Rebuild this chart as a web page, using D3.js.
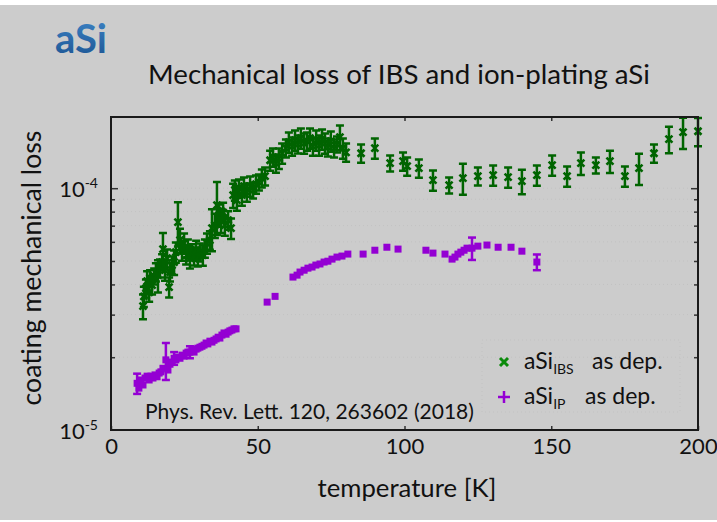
<!DOCTYPE html>
<html lang="en">
  <head>
    <meta charset="UTF-8" />
    <title>Mechanical loss of IBS and ion-plating aSi</title>
    <script src="https://cdn.jsdelivr.net/npm/d3@7"></script>
    <style>
      body { margin: 0; background: #fff; }
      svg text { font-family: Lato, "Open Sans", sans-serif; fill: #111; }
    </style>
  </head>
  <body>
    <div id="chart"></div>
    <script>
      // temperatures in K, loss in units of 1e-5
      var tempIBS = [10.9, 11.2, 11.9, 12.3, 13.0, 13.3, 14.0, 14.7, 15.3, 16.0, 16.7, 17.4, 17.7, 18.4, 19.1, 19.8,
        20.1, 20.8, 21.5, 22.1, 22.8, 23.5, 24.2, 24.9, 25.6, 26.2, 26.9, 27.6, 28.3, 29.0, 29.6, 30.3, 31.3, 32.0,
        32.7, 33.7, 34.4, 35.4, 36.1, 36.8, 37.5, 38.2, 38.8, 39.9, 40.9, 41.6, 42.2, 42.9, 43.6, 44.6, 45.3, 46.3,
        47.4, 48.4, 49.4, 50.4, 51.4, 52.5, 54.2, 55.2, 56.2, 57.2, 58.3, 59.6, 60.6, 61.7, 62.7, 63.7, 64.7, 65.8,
        66.8, 67.8, 68.8, 69.9, 70.9, 71.9, 72.9, 73.9, 74.9, 76.0, 77.0, 78.0, 79.0, 80.1, 85.2, 89.9, 95.1, 99.5,
        100.9, 104.9, 109.7, 115.2, 119.9, 125.0, 130.2, 135.3, 140.0, 145.1, 150.3, 155.4, 160.1, 165.2, 170.0,
        175.1, 179.9, 185.0, 190.1, 194.9, 200.0];
      var lossIBS = [3.25, 3.57, 3.86, 4.13, 3.71, 4.25, 3.97, 4.33, 4.50, 4.37, 4.67, 4.95, 5.60, 4.58, 5.14, 3.90,
        4.50, 4.81, 4.95, 5.44, 7.24, 6.10, 5.54, 5.93, 5.29, 5.65, 5.14, 5.44, 5.24, 5.54, 5.19, 5.44, 5.29, 5.65,
        5.93, 6.10, 6.83, 7.03, 8.51, 7.74, 7.38, 7.95, 7.03, 7.38, 6.83, 9.36, 9.81, 8.92, 10.00, 9.36, 10.19, 9.63,
        10.19, 9.81, 10.39, 10.59, 11.01, 11.22, 13.05, 13.43, 12.69, 13.30, 13.95, 14.64, 15.50, 14.92, 15.79, 15.21,
        16.10, 15.35, 15.64, 16.10, 14.92, 15.79, 15.06, 15.95, 15.35, 14.78, 15.64, 14.64, 15.21, 16.25, 14.64,
        14.08, 13.95, 14.64, 12.69, 12.93, 12.33, 12.10, 10.79, 10.29, 11.01, 11.22, 11.32, 11.11, 10.69, 11.32,
        12.45, 11.22, 12.69, 12.45, 12.93, 11.22, 12.10, 13.95, 15.95, 17.04, 17.20];
      var errIBS = [0.38, 0.34, 0.33, 0.40, 0.32, 0.33, 0.34, 0.33, 0.39, 0.67, 0.40, 0.38, 0.93, 0.44, 0.44, 0.37,
        0.39, 0.41, 0.57, 0.52, 1.50, 0.70, 0.53, 0.57, 0.46, 0.49, 0.49, 0.42, 0.45, 0.53, 0.45, 0.47, 0.51, 0.49,
        0.57, 0.53, 1.35, 0.81, 2.10, 0.82, 0.85, 0.76, 0.67, 0.64, 0.66, 1.07, 0.94, 0.86, 0.86, 0.90, 0.88, 0.83,
        0.98, 0.75, 0.90, 0.81, 0.95, 0.97, 1.25, 1.16, 1.10, 1.28, 1.34, 1.26, 1.49, 1.29, 1.52, 1.31, 1.55, 1.47,
        1.35, 1.55, 1.29, 1.52, 1.45, 1.53, 1.47, 1.27, 1.50, 1.26, 1.17, 1.90, 1.41, 1.21, 1.20, 1.41, 0.97, 1.12,
        1.06, 1.05, 1.04, 0.79, 1.62, 0.97, 1.09, 1.07, 1.24, 1.09, 1.20, 1.08, 1.35, 0.96, 1.37, 1.08, 1.79, 1.21,
        2.00, 2.50, 2.30];

      var tempIP = [8.9, 9.5, 10.2, 10.9, 11.6, 12.3, 13.0, 13.6, 14.3, 15.0, 15.7, 16.4, 17.0, 17.7, 18.7, 19.4,
        20.1, 20.8, 21.5, 22.1, 22.8, 23.5, 24.2, 24.9, 25.6, 26.2, 26.9, 27.6, 28.3, 29.0, 29.6, 30.3, 31.0, 31.7,
        32.4, 33.0, 33.7, 34.4, 35.1, 35.8, 36.5, 37.1, 37.8, 38.5, 39.2, 39.9, 40.5, 41.2, 41.9, 42.6, 53.2, 55.9,
        62.0, 63.4, 64.4, 65.8, 67.1, 68.5, 69.8, 71.2, 72.6, 73.9, 75.3, 77.0, 78.7, 80.7, 85.9, 89.9, 94.0, 97.8,
        107.3, 109.7, 113.8, 116.2, 117.2, 118.2, 119.2, 120.3, 121.3, 123.0, 125.0, 128.1, 131.9, 136.3, 140.0, 145.1];
      var lossIP = [1.56, 1.49, 1.61, 1.535, 1.64, 1.67, 1.61, 1.67, 1.64, 1.69, 1.66, 1.72, 1.74, 1.80, 1.95, 1.77,
        1.87, 1.91, 1.98, 1.95, 2.00, 1.98, 2.04, 2.02, 2.08, 2.10, 2.10, 2.14, 2.10, 2.16, 2.18, 2.20, 2.22, 2.245,
        2.29, 2.27, 2.33, 2.31, 2.35, 2.38, 2.42, 2.40, 2.47, 2.52, 2.49, 2.54, 2.57, 2.59, 2.62, 2.62, 3.38, 3.57,
        4.29, 4.37, 4.50, 4.58, 4.67, 4.72, 4.81, 4.86, 4.95, 4.99, 5.09, 5.19, 5.24, 5.34, 5.34, 5.54, 5.70, 5.60,
        5.54, 5.39, 5.34, 5.09, 5.19, 5.34, 5.44, 5.54, 5.65, 5.65, 5.76, 5.82, 5.70, 5.70, 5.49, 4.95];
      var errIP = [0.15, 0, 0, 0, 0, 0, 0, 0, 0, 0, 0, 0, 0, 0, 0.34, 0, 0, 0, 0.12, 0, 0, 0, 0, 0, 0, 0, 0.12, 0,
        0, 0, 0, 0, 0, 0, 0, 0, 0, 0, 0, 0, 0, 0, 0, 0, 0, 0, 0, 0, 0, 0, 0, 0, 0, 0, 0, 0, 0, 0, 0, 0, 0, 0, 0, 0,
        0, 0, 0, 0, 0, 0, 0, 0, 0, 0, 0, 0, 0, 0, 0, 0.6, 0, 0, 0, 0, 0, 0.37];

      var xTicks = [0, 50, 100, 150, 200];
      var yMajor = [1e-5, 1e-4];
      var yMajorExp = ["-5", "-4"];
      var yMinor = [2e-5, 3e-5, 4e-5, 5e-5, 6e-5, 7e-5, 8e-5, 9e-5];
      var UNIT = 1e-5;

      var green = "#006400", purple = "#9400d3";
      var W = 717, H = 522;

      var svg = d3.select("#chart").append("svg").attr("width", W).attr("height", H);

      var grad = svg.append("defs").append("linearGradient")
        .attr("id", "blueGrad").attr("x1", 0).attr("y1", 0).attr("x2", 0).attr("y2", 1);
      grad.append("stop").attr("offset", "0%").attr("stop-color", "#3f86c8");
      grad.append("stop").attr("offset", "100%").attr("stop-color", "#1a5290");

      svg.append("rect").attr("x", 0).attr("y", 5).attr("width", W).attr("height", 515).attr("fill", "#cccccc");

      function fit(t, w) {
        var fs = parseFloat(t.attr("font-size"));
        t.attr("font-size", (fs * w) / t.node().getComputedTextLength());
      }

      // header texts
      var asi = svg.append("text").attr("x", 55).attr("y", 53).attr("font-size", 34)
        .attr("font-weight", "bold").style("fill", "url(#blueGrad)").text("aSi");
      fit(asi, 52);
      var title = svg.append("text").attr("x", 399).attr("y", 84).attr("text-anchor", "middle")
        .attr("font-size", 24).text("Mechanical loss of IBS and ion-plating aSi");
      fit(title, 502);

      var x = d3.scaleLinear().domain([0, 200]).range([111, 698]);
      var y = d3.scaleLog().domain([1e-5, 1.97e-4]).range([430, 117]);

      // faint dotted grid
      svg.append("g").selectAll("line").data(yMinor.concat([1e-4])).join("line")
        .attr("x1", x(0)).attr("x2", x(200))
        .attr("y1", (d) => y(d)).attr("y2", (d) => y(d))
        .attr("stroke", "#c2c2c2").attr("stroke-width", 1).attr("stroke-dasharray", "1,3");

      // legend box (faint)
      svg.append("rect").attr("x", 482).attr("y", 340).attr("width", 198).attr("height", 72)
        .attr("fill", "none").attr("stroke", "#c2c2c2").attr("stroke-dasharray", "1,3");

      // ticks
      function styleAxis(g) {
        g.select(".domain").remove();
        g.selectAll(".tick line").attr("stroke", "#333").attr("stroke-width", 1.5);
      }
      svg.append("g").attr("transform", "translate(0,430)")
        .call(d3.axisBottom(x).tickValues(xTicks).tickSize(-4).tickPadding(8).tickFormat(d3.format("d")))
        .call(styleAxis)
        .call((g) => g.selectAll(".tick text").attr("font-size", 22).style("font-family", "Lato").style("fill", "#111"));
      svg.append("g").attr("transform", "translate(0,117)")
        .call(d3.axisTop(x).tickValues([50, 100, 150]).tickSize(-4).tickFormat(""))
        .call(styleAxis);
      [[d3.axisLeft, 111], [d3.axisRight, 698]].forEach(function (a) {
        svg.append("g").attr("transform", "translate(" + a[1] + ",0)")
          .call(a[0](y).tickValues(yMinor).tickSize(-4).tickFormat(""))
          .call(styleAxis);
        svg.append("g").attr("transform", "translate(" + a[1] + ",0)")
          .call(a[0](y).tickValues([1e-4]).tickSize(-7).tickFormat(""))
          .call(styleAxis);
      });

      // y labels with superscript
      yMajor.forEach(function (v, i) {
        var t = svg.append("text").attr("x", 98).attr("y", y(v) + 9).attr("text-anchor", "end")
          .attr("font-size", 22);
        t.append("tspan").text("10");
        t.append("tspan").attr("font-size", 14).attr("dy", -9).text(yMajorExp[i]);
      });

      // axis titles
      var xl = svg.append("text").attr("x", 407).attr("y", 497).attr("text-anchor", "middle")
        .attr("font-size", 24).text("temperature [K]");
      fit(xl, 179);
      var yl = svg.append("text").attr("transform", "translate(41,268) rotate(-90)")
        .attr("text-anchor", "middle").attr("font-size", 24).text("coating mechanical loss");
      fit(yl, 275);

      var cite = svg.append("text").attr("x", 145).attr("y", 419).attr("font-size", 18)
        .text("Phys. Rev. Lett. 120, 263602 (2018)");
      fit(cite, 329);

      // IP series (purple squares)
      var ipData = tempIP.map((t, i) => ({ t: t, v: lossIP[i] * UNIT, e: errIP[i] * UNIT }));
      var gIP = svg.append("g");
      ipData.filter((d) => d.e > 0).forEach(function (d) {
        var cx = x(d.t), y0 = y(d.v - d.e), y1 = y(d.v + d.e);
        gIP.append("line").attr("x1", cx).attr("x2", cx).attr("y1", y0).attr("y2", y1);
        gIP.append("line").attr("x1", cx - 4).attr("x2", cx + 4).attr("y1", y0).attr("y2", y0);
        gIP.append("line").attr("x1", cx - 4).attr("x2", cx + 4).attr("y1", y1).attr("y2", y1);
      });
      gIP.selectAll("line").attr("stroke", purple).attr("stroke-width", 2.5);
      gIP.selectAll("rect").data(ipData).join("rect")
        .attr("x", (d) => x(d.t) - 3.5).attr("y", (d) => y(d.v) - 3.5)
        .attr("width", 7).attr("height", 7).attr("fill", purple);

      // IBS series (green crosses with error bars)
      var ibsData = tempIBS.map((t, i) => ({ t: t, v: lossIBS[i] * UNIT, e: errIBS[i] * UNIT }));
      var gIBS = svg.append("g").attr("stroke", green).attr("stroke-width", 2.5).attr("fill", "none");
      ibsData.forEach(function (d) {
        var cx = x(d.t), cy = y(d.v), y0 = y(d.v - d.e), y1 = y(d.v + d.e);
        var p = d3.path();
        p.moveTo(cx, y0); p.lineTo(cx, y1);
        p.moveTo(cx - 4, y0); p.lineTo(cx + 4, y0);
        p.moveTo(cx - 4, y1); p.lineTo(cx + 4, y1);
        p.moveTo(cx - 3.5, cy - 3.5); p.lineTo(cx + 3.5, cy + 3.5);
        p.moveTo(cx - 3.5, cy + 3.5); p.lineTo(cx + 3.5, cy - 3.5);
        gIBS.append("path").attr("d", p.toString());
      });

      // frame
      svg.append("rect").attr("x", 111).attr("y", 117).attr("width", 587).attr("height", 313)
        .attr("fill", "none").attr("stroke", "#1a1a1a").attr("stroke-width", 2);

      // legend
      var leg = svg.append("g");
      leg.append("path").attr("d", "M500,358L508,366M500,366L508,358")
        .attr("stroke", "#0a8a0a").attr("stroke-width", 3);
      leg.append("path").attr("d", "M498,397L510,397M504,391L504,403")
        .attr("stroke", purple).attr("stroke-width", 2.5);
      var l1 = leg.append("text").attr("x", 524).attr("y", 369).attr("font-size", 23);
      l1.append("tspan").text("aSi");
      l1.append("tspan").attr("font-size", 14).attr("dy", 5).text("IBS");
      l1.append("tspan").attr("x", 592).attr("dy", -5).text("as dep.");
      var l2 = leg.append("text").attr("x", 524).attr("y", 404).attr("font-size", 23);
      l2.append("tspan").text("aSi");
      l2.append("tspan").attr("font-size", 14).attr("dy", 5).text("IP");
      l2.append("tspan").attr("x", 585).attr("dy", -5).text("as dep.");
    </script>
  </body>
</html>
